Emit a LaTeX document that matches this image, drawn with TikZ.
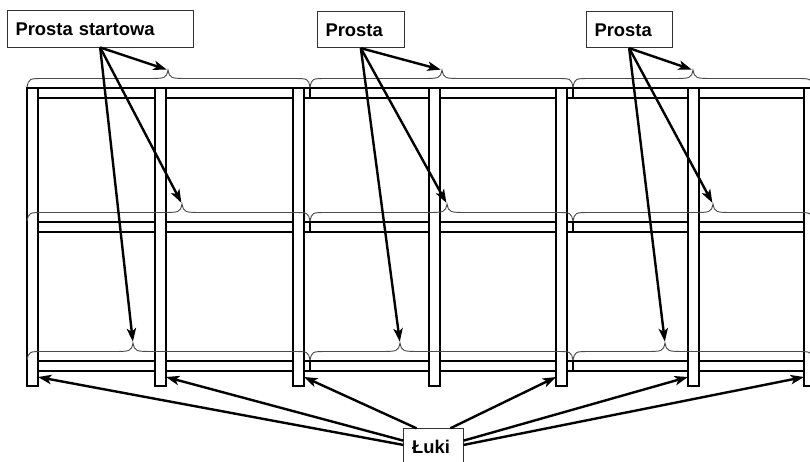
\documentclass[tikz,border=0pt]{standalone}
\usepackage{fontspec}
\setsansfont{Liberation Sans}
\usetikzlibrary{arrows.meta}

\begin{document}
\begin{tikzpicture}[> = {Stealth[length = 10pt, width = 7pt, inset = 2.5pt]}, x = 0.75pt, y = -0.75pt,
	post/.style = {draw, line width = 1.6pt, fill = white},
	rail/.style = {draw, line width = 1.4pt},
	brace line/.style = {draw = black!70, line width = 0.7pt},
	label box/.style = {draw = black!80, line width = 0.6pt, fill = white, anchor = north west,
		font = \sffamily\bfseries\fontsize{13.8}{16}\selectfont, align = left,
		inner xsep = 6.3pt, minimum height = 27.5pt, text height = 10pt, text depth = 0pt},
	pointer/.style = {->, line width = 1.8pt}]

	\useasboundingbox (0, 0) rectangle (810, 461);

	% Rails of the three sections
	
	\foreach \xa/\xb in {27/310, 310/573, 573/815}
		\foreach \y in {88, 222, 361}
			\draw [rail] (\xa, \y) rectangle (\xb, \y + 10);

	% Posts
	
	\foreach \x [count = \i] in {27, 155, 293, 429, 556, 688, 804}
	{
		\draw [post] (\x, 88) rectangle (\x + 11, 386);
		\coordinate (pl\i) at (\x, 377);
		\coordinate (pr\i) at (\x + 11, 377);
	}

	% Braces over the rails, one per section and row

	\foreach \y/\row/\ta/\tb/\tc in {87/1/168/442/693, 221/2/182/447/713, 360/3/133/400/665}
		\foreach \xa/\xb/\tip/\col in {27/310/\ta/1, 310/573/\tb/2, 573/813/\tc/3}
			\draw [brace line] (\xa, \y) .. controls (\xa + 2, \y - 8.5) .. (\xa + 17, \y - 8.5)
				-- (\tip - 22, \y - 8.5) .. controls (\tip - 2, \y - 8.5) .. (\tip, \y - 17) coordinate (tip\row\col)
				.. controls (\tip + 2, \y - 8.5) .. (\tip + 22, \y - 8.5)
				-- (\xb - 17, \y - 8.5) .. controls (\xb - 2, \y - 8.5) .. (\xb, \y);

	% Labels

	\node [label box, text width = 127pt] (start) at (6.7, 10) {Prosta startowa};
	\node [label box, text width = 53pt] (prosta2) at (316.7, 10.7) {Prosta};
	\node [label box, text width = 52pt] (prosta3) at (585.7, 10.7) {Prosta};
	\node [label box, text width = 32pt] (luki) at (403.3, 428.3) {Łuki};

	% Pointers to the straights

	\begin{scope}[pointer, shorten > = 1pt]
		\foreach \col/\lab in {1/start, 2/prosta2, 3/prosta3}
			\foreach \row in {1, 2, 3}
				\draw (\lab.south) -- (tip\row\col);
	\end{scope}

	% Pointers to the curves

	\begin{scope}[pointer]
		\draw (luki.176) -- (pr1);
		\draw (luki.168) -- (pr2);
		\draw (luki.132) -- (pr3);
		\draw (luki.48) -- (pl5);
		\draw (luki.12) -- (pl6);
		\draw (luki.4) -- (pl7);
	\end{scope}

\end{tikzpicture}
\end{document}
